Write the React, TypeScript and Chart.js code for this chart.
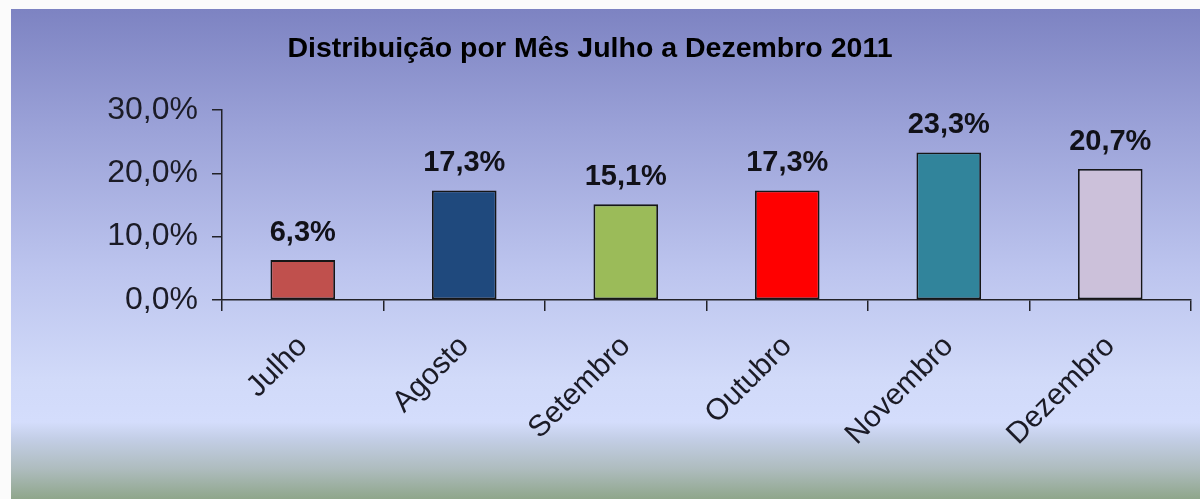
import React, { useEffect, useRef } from 'react';
import { Chart, registerables } from 'chart.js';

Chart.register(...registerables);

const categories = ['Julho', 'Agosto', 'Setembro', 'Outubro', 'Novembro', 'Dezembro'];
const values = [6.3, 17.3, 15.1, 17.3, 23.3, 20.7];
const barColors = ['#c0504d', '#1f497d', '#9bbb59', '#ff0000', '#31849b', '#ccc1da'];
const yTickValues = [0, 10, 20, 30];
const chartTitle = 'Distribuição por Mês Julho a Dezembro 2011';

const FONT = '"Liberation Sans", Arial, sans-serif';
const TEXT = '#1b1b26';
const AXIS = '#222228';

const fmt = (v: number) => v.toFixed(1).replace('.', ',') + '%';

const valueLabels = {
  id: 'valueLabels',
  afterDatasetsDraw(chart: any) {
    const ctx = chart.ctx;
    const meta = chart.getDatasetMeta(0);
    ctx.save();
    ctx.font = `bold 29px ${FONT}`;
    ctx.fillStyle = '#111118';
    ctx.textAlign = 'center';
    ctx.textBaseline = 'alphabetic';
    meta.data.forEach((bar: any, i: number) => {
      ctx.fillText(fmt(values[i]), bar.x, bar.y - 19);
    });
    ctx.restore();
  },
};

const titlePlugin = {
  id: 'titleText',
  afterDraw(chart: any) {
    const ctx = chart.ctx;
    ctx.save();
    ctx.font = `bold 28.5px ${FONT}`;
    ctx.fillStyle = '#000';
    ctx.textAlign = 'center';
    ctx.textBaseline = 'middle';
    ctx.fillText(chartTitle, 590, 49);
    ctx.restore();
  },
};

export default function App() {
  const ref = useRef<HTMLCanvasElement | null>(null);

  useEffect(() => {
    document.body.style.margin = '0';
    if (!ref.current) return;
    const chart = new Chart(ref.current, {
      type: 'bar',
      data: {
        labels: categories,
        datasets: [
          {
            data: values,
            backgroundColor: barColors,
            borderColor: '#161616',
            borderWidth: 1.8,
            borderSkipped: false,
            categoryPercentage: 1,
            barPercentage: 0.4,
          },
        ],
      },
      options: {
        responsive: false,
        animation: false,
        devicePixelRatio: 1,
        layout: { padding: { top: 110, right: 9, left: 0, bottom: 0 } },
        plugins: {
          legend: { display: false },
          title: { display: false },
          tooltip: { enabled: false },
        },
        scales: {
          x: {
            offset: true,
            grid: {
              display: true,
              offset: true,
              drawOnChartArea: false,
              drawTicks: true,
              tickLength: 11,
              color: AXIS,
              lineWidth: 1.5,
            },
            border: { display: true, color: AXIS, width: 1.5 },
            ticks: {
              minRotation: 45,
              maxRotation: 45,
              color: TEXT,
              padding: 18,
              font: { family: FONT, size: 30 },
            },
            afterFit: (s: any) => {
              s.height = 199;
            },
          },
          y: {
            min: 0,
            max: 30,
            afterBuildTicks: (s: any) => {
              s.ticks = yTickValues.map((v) => ({ value: v }));
            },
            ticks: {
              color: TEXT,
              padding: 14,
              font: { family: FONT, size: 32 },
              callback: (v: any) => fmt(Number(v)),
            },
            grid: {
              display: true,
              drawOnChartArea: false,
              drawTicks: true,
              tickLength: 10,
              color: AXIS,
              lineWidth: 1.5,
            },
            border: { display: true, color: AXIS, width: 1.5 },
            afterFit: (s: any) => {
              s.width = 222;
            },
          },
        },
      },
      plugins: [valueLabels, titlePlugin],
    });
    return () => chart.destroy();
  }, []);

  return (
    <div style={{ position: 'relative', width: 1200, height: 499, background: '#fbfbfb', overflow: 'hidden' }}>
      <div
        style={{
          position: 'absolute',
          left: 11,
          top: 9,
          right: 0,
          bottom: 0,
          background:
            'linear-gradient(to bottom, #7d83c2 0px, #9ba2d8 120px, #bcc4ee 260px, #d1daf9 370px, #d4ddfc 413px, #c3cee6 430px, #aebcbe 460px, #8fa68b 490px)',
        }}
      />
      <canvas ref={ref} width={1200} height={499} style={{ position: 'absolute', left: 0, top: 0 }} />
    </div>
  );
}
